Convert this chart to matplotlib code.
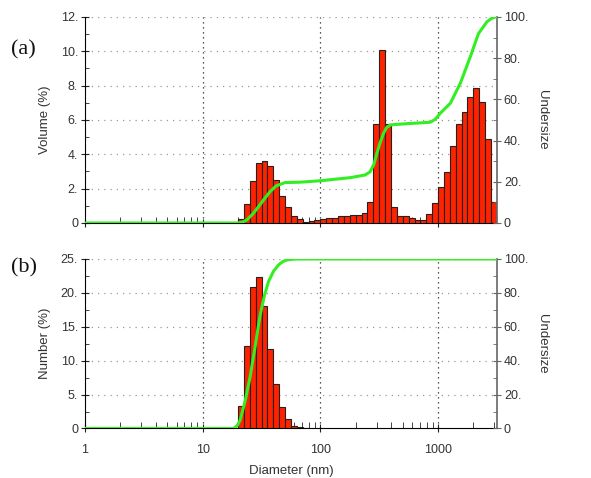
import numpy as np
import matplotlib
matplotlib.use('Agg')
import matplotlib.pyplot as plt
from matplotlib.ticker import FixedLocator, NullFormatter

plt.rcParams['font.family'] = ['Liberation Sans', 'DejaVu Sans']

# size classes: log spaced, 20 per decade, starting at ~20 nm
log_start = 1.3
log_step = 0.05

# (a) volume distribution (%)
volume_pct = [0.25, 1.09, 2.43, 3.51, 3.63, 3.32, 2.5, 1.6, 0.92, 0.41,
              0.21, 0.03, 0.13, 0.17, 0.23, 0.31, 0.31, 0.39, 0.39, 0.47,
              0.47, 0.6, 1.2, 5.75, 10.08, 5.75, 0.95, 0.41, 0.41, 0.31,
              0.17, 0.17, 0.5, 1.18, 2.12, 2.95, 4.5, 5.75, 6.48, 7.36,
              7.84, 7.07, 4.89, 1.24]

# (a) undersize curve
vol_cum_d = [1, 20.1, 22, 23.7, 26.5, 29.8, 33.5, 37.4, 42, 50, 67, 100, 179,
             240, 265, 285, 302, 322, 344, 365, 393, 509, 859, 950, 1042,
             1271, 1545, 1879, 2208, 2606, 2850, 3062, 3162]
vol_cum = [0, 0, 0.5, 1.5, 4.2, 7.9, 11.8, 15.2, 18.0, 19.6, 19.8, 20.5, 22,
           23.3, 24.9, 28.5, 33.8, 39.0, 43.5, 46.3, 47.6, 48.1, 48.9, 50.4, 53.2,
           58.1, 67.8, 80.7, 92, 97.7, 99.3, 100, 100]

# (b) number distribution (%)
number_pct = [3.29, 12.2, 20.9, 22.4, 18.0, 11.7, 6.5, 3.1, 1.33, 0.39, 0.2, 0.05]

# (b) undersize curve
num_cum_d = [1, 18.2, 19.6, 20.8, 23, 25.3, 28, 30.8, 33.5, 36.2, 40, 44.1,
             48, 51.9, 57, 63, 3162]
num_cum = [0, 0, 1.5, 4.9, 16.5, 30.5, 49, 67, 78.5, 86.6, 92.8, 96.5,
           98.5, 99.4, 99.8, 100, 100]

bar_col = '#ff2200'
line_col = '#33ee22'
txt_col = '#333333'

fig = plt.figure(figsize=(5.91, 4.78), dpi=100)
ax1 = fig.add_axes([0.1438, 0.5335, 0.697, 0.431])
ax2 = fig.add_axes([0.1438, 0.1036, 0.697, 0.3546])


def draw(ax, pct, ymax, ystep, cum_d, cum, ylabel, letter, letter_y, show_x):
    n = len(pct)
    edges = 10 ** (log_start + log_step * np.arange(n + 1))
    ax.bar(edges[:-1], pct, width=np.diff(edges), align='edge',
           color=bar_col, edgecolor='#222222', linewidth=0.8, zorder=3)
    ax.set_xscale('log')
    ax.set_xlim(1, 10 ** 3.5)
    ax.set_ylim(0, ymax)
    ax.spines['top'].set_visible(False)
    ax.spines['right'].set_visible(False)
    ax.xaxis.set_major_locator(FixedLocator([1, 10, 100, 1000]))
    minors = [m * 10 ** e for e in range(0, 4) for m in range(2, 10) if m * 10 ** e < 3162]
    ax.xaxis.set_minor_locator(FixedLocator(minors))
    ax.xaxis.set_minor_formatter(NullFormatter())
    ax.tick_params(axis='x', which='major', direction='inout', length=6, color='#222222', pad=8)
    ax.tick_params(axis='x', which='minor', direction='in', length=4, color='#222222')
    if show_x:
        ax.set_xticklabels(['1', '10', '100', '1000'])
    else:
        ax.set_xticklabels([])
    yt = np.arange(0, ymax + 0.01, ystep)
    ax.set_yticks(yt)
    ax.set_yticklabels(['0'] + ['%d.' % v for v in yt[1:]])
    ax.yaxis.set_minor_locator(FixedLocator(np.arange(ystep / 2, ymax, ystep)))
    ax.tick_params(axis='y', which='major', direction='inout', length=6, color='#222222', pad=2)
    ax.tick_params(axis='y', which='minor', direction='in', length=3, color='#222222')
    ax.tick_params(labelsize=9, labelcolor=txt_col)
    for v in yt[1:]:
        ax.axhline(v, color='#999999', linestyle=(0, (1, 4)), linewidth=0.9, zorder=1)
    for v in [10, 100, 1000]:
        ax.axvline(v, color='#222222', linestyle=(0, (1, 3)), linewidth=0.9, zorder=1)
    ax.set_ylabel(ylabel, fontsize=9.5, color=txt_col, labelpad=7)

    axr = ax.twinx()
    axr.set_ylim(0, 100)
    axr.plot(cum_d, cum, color=line_col, linewidth=2.2, zorder=5)
    axr.set_xlim(1, 10 ** 3.5)
    axr.spines['top'].set_visible(False)
    axr.spines['left'].set_visible(False)
    axr.spines['bottom'].set_visible(False)
    axr.spines['right'].set_color('#666666')
    axr.spines['right'].set_linewidth(1.2)
    axr.set_yticks([0, 20, 40, 60, 80, 100])
    axr.set_yticklabels(['0', '20.', '40.', '60.', '80.', '100.'])
    axr.yaxis.set_minor_locator(FixedLocator([10, 30, 50, 70, 90]))
    axr.tick_params(axis='y', which='major', direction='inout', length=6, color='#666666',
                    labelsize=9, labelcolor=txt_col, pad=2)
    axr.tick_params(axis='y', which='minor', direction='in', length=3, color='#666666')
    axr.set_ylabel('Undersize', rotation=270, fontsize=9.5, color=txt_col, labelpad=14)
    # green line above the bars
    ax.set_zorder(0)
    axr.set_zorder(1)
    axr.patch.set_visible(False)
    fig.text(0.018, letter_y, letter, fontsize=16, family='Liberation Serif', color='#111111')


draw(ax1, volume_pct, 12, 2, vol_cum_d, vol_cum, 'Volume (%)', '(a)', 0.885, False)
draw(ax2, number_pct, 25, 5, num_cum_d, num_cum, 'Number (%)', '(b)', 0.43, True)
ax2.set_xlabel('Diameter (nm)', fontsize=9.5, color=txt_col, labelpad=7)

fig.savefig('out.png', dpi=100, facecolor='white')
